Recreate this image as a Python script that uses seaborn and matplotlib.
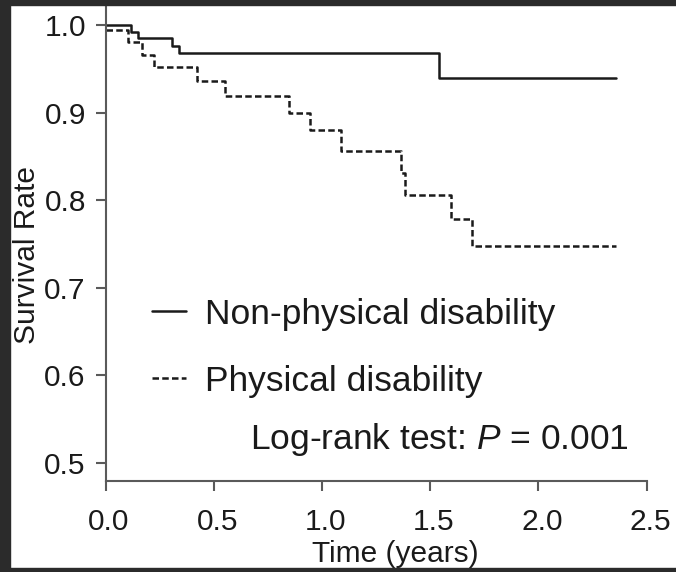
import matplotlib
matplotlib.use("Agg")
import matplotlib.pyplot as plt
import matplotlib.transforms as mtransforms
from matplotlib.patches import Rectangle
from matplotlib.lines import Line2D
import seaborn as sns
import pandas as pd

# ---- data ----
groups = ["Non-physical disability", "Physical disability"]
t_nonphys = [0.0, 0.116, 0.150, 0.309, 0.339, 1.539, 2.356]
s_nonphys = [1.000, 0.992, 0.985, 0.976, 0.968, 0.939, 0.939]
t_phys = [0.0, 0.105, 0.170, 0.225, 0.424, 0.552, 0.849, 0.945, 1.086,
          1.363, 1.383, 1.594, 1.691, 2.358]
s_phys = [0.994, 0.981, 0.966, 0.952, 0.936, 0.919, 0.900, 0.880, 0.856,
          0.831, 0.806, 0.778, 0.748, 0.748]
x_ticks = [0.0, 0.5, 1.0, 1.5, 2.0, 2.5]
x_ticklabels = ["0.0", "0.5", "1.0", "1.5", "2.0", "2.5"]
y_ticks = [0.5, 0.6, 0.7, 0.8, 0.9, 1.0]
y_ticklabels = ["0.5", "0.6", "0.7", "0.8", "0.9", "1.0"]
annotation = r"Log-rank test: $\it{P}$ = 0.001"

df = pd.concat([
    pd.DataFrame({"Time": t_nonphys, "Survival": s_nonphys, "Group": groups[0]}),
    pd.DataFrame({"Time": t_phys, "Survival": s_phys, "Group": groups[1]}),
], ignore_index=True)

sns.set_style("ticks")
plt.rcParams["font.family"] = ["Liberation Sans", "DejaVu Sans"]
plt.rcParams["mathtext.fontset"] = "custom"
plt.rcParams["mathtext.it"] = "Liberation Sans:italic"
plt.rcParams["mathtext.rm"] = "Liberation Sans"

W, H = 676, 572
fig = plt.figure(figsize=(W / 100, H / 100), dpi=100)
ax = fig.add_axes([105.5 / W, 1 - 480.7 / H, 541.2 / W, 474.7 / H])

line_col = "#1a1a1a"
dash = (2.6, 1.3)
lw = 1.8
sns.lineplot(data=df, x="Time", y="Survival", hue="Group", style="Group",
             palette={groups[0]: line_col, groups[1]: line_col},
             dashes={groups[0]: "", groups[1]: dash},
             estimator=None, sort=False, drawstyle="steps-post",
             linewidth=lw, legend=False, ax=ax)

ax.set_xlim(0, 2.5)
ax.set_ylim(0.4794, 1.0217)
ax.set_xticks(x_ticks)
ax.set_xticklabels(x_ticklabels)
ax.set_yticks(y_ticks)
ax.set_yticklabels(y_ticklabels)

spine_col = "#5a5a5a"
for s in ["top", "right"]:
    ax.spines[s].set_visible(False)
for s in ["left", "bottom"]:
    ax.spines[s].set_color(spine_col)
    ax.spines[s].set_linewidth(1.5)
ax.tick_params(axis="both", direction="out", length=7.2, width=1.5,
               color=spine_col, labelsize=21.5, labelcolor="#1a1a1a")
ax.tick_params(axis="x", pad=12.5)
ax.tick_params(axis="y", pad=7)

# the reference's x tick labels sit a few pixels right of their ticks
shift = mtransforms.ScaledTranslation(3.5 / 100, 0, fig.dpi_scale_trans)
for lab in ax.get_xticklabels():
    lab.set_transform(lab.get_transform() + shift)

ax.set_xlabel("Time (years)", fontsize=21.5, color="#1a1a1a")
ax.set_ylabel("Survival Rate", fontsize=21.5, color="#1a1a1a")
ax.xaxis.set_label_coords(0.535, -0.125)
ax.yaxis.set_label_coords(-0.119, 0.4755)

handles = [Line2D([], [], color=line_col, lw=lw, linestyle="-"),
           Line2D([], [], color=line_col, lw=lw, linestyle=(0, dash))]
ax.legend(handles, groups, loc="upper left",
          bbox_to_anchor=(152 / W, 1 - 297.7 / H), bbox_transform=fig.transFigure,
          frameon=False, borderpad=0, borderaxespad=0, fontsize=25.5,
          handlelength=0.96, handletextpad=0.54, labelspacing=0.96,
          labelcolor="#1a1a1a")

fig.text(250 / W, 1 - 439 / H, annotation, fontsize=25.5, ha="left", va="center",
         color="#1a1a1a")

# dark frame around the picture
frame_col = "#2b2b2b"
fig.patches.append(Rectangle((0, 0), 10 / W, 1, transform=fig.transFigure,
                             color=frame_col, zorder=10))
fig.patches.append(Rectangle((0, 1 - 5 / H), 1, 5 / H, transform=fig.transFigure,
                             color=frame_col, zorder=10))
fig.patches.append(Rectangle((0, 0), 1, 4 / H, transform=fig.transFigure,
                             color=frame_col, zorder=10))

fig.savefig("out.png", dpi=100)
